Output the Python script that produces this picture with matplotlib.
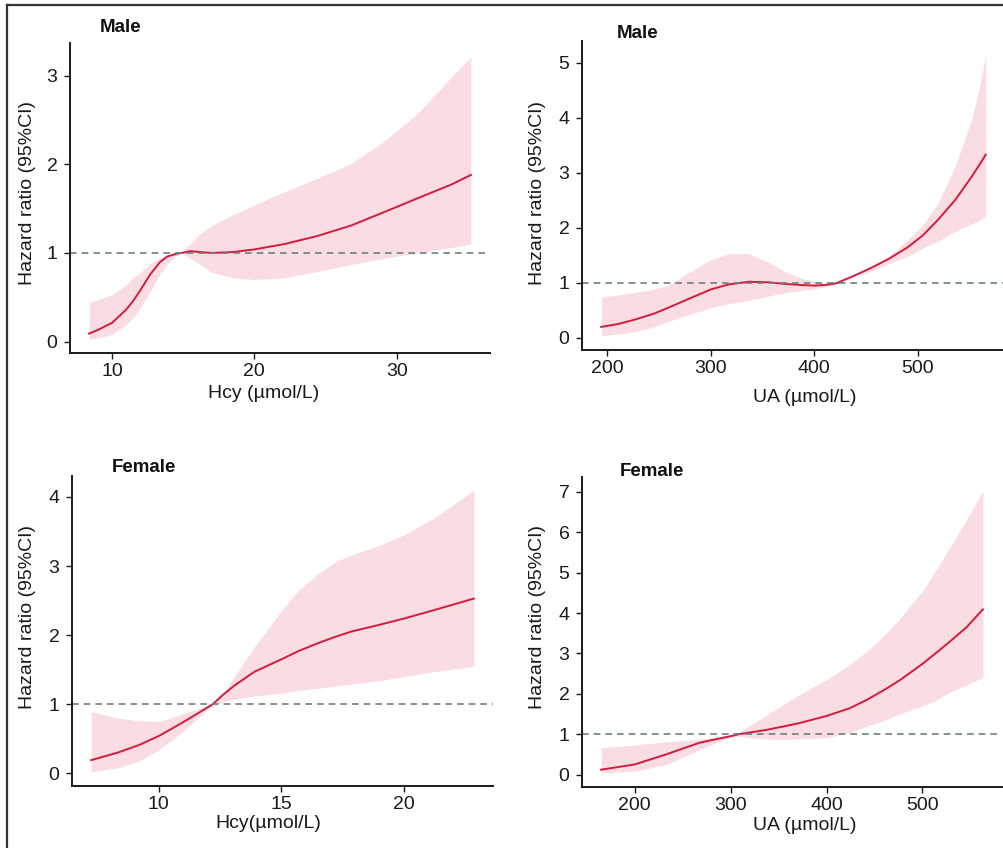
import numpy as np
import matplotlib
matplotlib.use("Agg")
import matplotlib.pyplot as plt
from matplotlib.lines import Line2D

plt.rcParams['font.family'] = ['Liberation Sans', 'DejaVu Sans']

# Hcy, male
hcy_m_x = [8.4, 9, 10, 11, 11.5, 12, 12.7, 13.4, 13.9, 14.5, 14.9, 15.5, 16.2, 17, 18.5,
           20, 22.1, 24.4, 26.8, 29.1, 31.5, 33.8, 35.2]
hcy_m_hr = [0.09, 0.13, 0.21, 0.36, 0.46, 0.58, 0.76, 0.90, 0.96, 0.99, 1.0, 1.02, 1.01, 1.0, 1.01,
            1.04, 1.10, 1.19, 1.31, 1.46, 1.62, 1.77, 1.88]
hcy_m_lo = [0.03, 0.04, 0.08, 0.19, 0.27, 0.38, 0.57, 0.77, 0.88, 0.97, 1.0, 0.94, 0.87, 0.78, 0.72,
            0.70, 0.72, 0.79, 0.87, 0.94, 1.0, 1.06, 1.10]
hcy_m_hi = [0.44, 0.47, 0.53, 0.64, 0.72, 0.78, 0.88, 0.95, 0.98, 1.0, 1.02, 1.10, 1.22, 1.31, 1.43,
            1.54, 1.69, 1.84, 2.01, 2.26, 2.58, 2.98, 3.21]

# UA, male
ua_m_x = [194, 210, 226, 245, 259, 280, 300, 317, 337, 356, 372, 388, 400, 410, 421,
          440, 456, 472.5, 490, 505, 520, 537, 552, 560, 566]
ua_m_hr = [0.20, 0.25, 0.33, 0.44, 0.55, 0.72, 0.88, 0.97, 1.02, 1.01, 0.98, 0.96, 0.95, 0.96, 0.99,
           1.14, 1.28, 1.44, 1.64, 1.86, 2.15, 2.52, 2.92, 3.15, 3.33]
ua_m_lo = [0.035, 0.07, 0.11, 0.20, 0.30, 0.43, 0.55, 0.62, 0.68, 0.76, 0.82, 0.86, 0.89, 0.93, 0.98,
           1.11, 1.22, 1.35, 1.48, 1.63, 1.76, 1.94, 2.07, 2.14, 2.21]
ua_m_hi = [0.74, 0.78, 0.82, 0.88, 0.96, 1.20, 1.42, 1.53, 1.53, 1.37, 1.20, 1.08, 1.03, 0.99, 1.0,
           1.11, 1.28, 1.48, 1.78, 2.05, 2.45, 3.15, 3.95, 4.55, 5.14]

# Hcy, female
hcy_f_x = [7.24, 8.33, 9.2, 10, 10.5, 11.04, 11.6, 12.2, 12.6, 13.08, 13.9, 15, 15.7, 16.47,
           17.15, 17.83, 19, 20, 21.2, 22.85]
hcy_f_hr = [0.19, 0.30, 0.41, 0.54, 0.64, 0.75, 0.87, 1.0, 1.13, 1.27, 1.47, 1.65, 1.77, 1.88,
            1.97, 2.05, 2.15, 2.24, 2.36, 2.53]
hcy_f_lo = [0.02, 0.08, 0.18, 0.34, 0.47, 0.63, 0.80, 0.98, 1.03, 1.07, 1.12, 1.16, 1.20, 1.23,
            1.26, 1.29, 1.34, 1.40, 1.47, 1.55]
hcy_f_hi = [0.89, 0.80, 0.76, 0.75, 0.80, 0.87, 0.93, 1.0, 1.15, 1.40, 1.83, 2.35, 2.65, 2.88,
            3.05, 3.16, 3.30, 3.45, 3.69, 4.10]

# UA, female
ua_f_x = [165, 200, 233, 268, 300, 309, 320, 336, 355, 371, 400, 424, 442, 459, 476, 500,
          511, 528, 546, 563]
ua_f_hr = [0.12, 0.25, 0.50, 0.79, 0.95, 1.0, 1.04, 1.10, 1.19, 1.27, 1.45, 1.64, 1.85, 2.08, 2.33, 2.74,
           2.95, 3.28, 3.65, 4.09]
ua_f_lo = [0.04, 0.08, 0.25, 0.62, 0.93, 0.95, 0.91, 0.88, 0.87, 0.88, 0.91, 1.04, 1.20, 1.33, 1.50, 1.70,
           1.80, 2.03, 2.22, 2.41]
ua_f_hi = [0.66, 0.73, 0.81, 0.87, 0.98, 1.05, 1.22, 1.45, 1.73, 1.97, 2.35, 2.72, 3.05, 3.42, 3.85, 4.55,
           4.95, 5.60, 6.31, 7.02]

W, H = 1004, 848
LINE = '#d41a3f'
FILL = '#f9dde2'
REF = '#6b8080'
FS = 14

fig = plt.figure(figsize=(W / 100, H / 100), dpi=100)


def px_box(l, r, t, b):
    return [l / W, 1 - b / H, (r - l) / W, (b - t) / H]


panels = [
    dict(box=(70, 490, 43, 353), x=hcy_m_x, hr=hcy_m_hr, lo=hcy_m_lo, hi=hcy_m_hi,
         xt=[10, 20, 30], yt=[0, 1, 2, 3], xl='Hcy (µmol/L)', title='Male',
         tpos=(100, 28), xlpos=(264, 393), ylpos=(28, 193)),
    dict(box=(582, 1005, 41, 350), x=ua_m_x, hr=ua_m_hr, lo=ua_m_lo, hi=ua_m_hi,
         xt=[200, 300, 400, 500], yt=[0, 1, 2, 3, 4, 5], xl='UA (µmol/L)', title='Male',
         tpos=(617, 33), xlpos=(805, 397), ylpos=(538, 193)),
    dict(box=(72, 493, 476, 786), x=hcy_f_x, hr=hcy_f_hr, lo=hcy_f_lo, hi=hcy_f_hi,
         xt=[10, 15, 20], yt=[0, 1, 2, 3, 4], xl='Hcy(µmol/L)', title='Female',
         tpos=(112, 467), xlpos=(268, 823), ylpos=(28, 617)),
    dict(box=(582, 1002, 477, 787), x=ua_f_x, hr=ua_f_hr, lo=ua_f_lo, hi=ua_f_hi,
         xt=[200, 300, 400, 500], yt=[0, 1, 2, 3, 4, 5, 6, 7], xl='UA (µmol/L)', title='Female',
         tpos=(620, 472), xlpos=(805, 825), ylpos=(538, 617)),
]

for p in panels:
    ax = fig.add_axes(px_box(*p['box']))
    x = np.array(p['x'])
    ax.fill_between(x, p['lo'], p['hi'], color=FILL, linewidth=0)
    ax.plot(x, p['hr'], color=LINE, lw=1.4, solid_joinstyle='round')
    ax.axhline(1, color=REF, lw=1.2, linestyle=(0, (4, 3)))

    # ggplot-like 5% expansion
    xr = x.max() - x.min()
    ymin, ymax = min(p['lo']), max(p['hi'])
    yr = ymax - ymin
    ax.set_xlim(x.min() - 0.05 * xr, x.max() + 0.05 * xr)
    ax.set_ylim(ymin - 0.05 * yr, ymax + 0.05 * yr)

    ax.set_xticks(p['xt'])
    ax.set_yticks(p['yt'])
    ax.tick_params(labelsize=FS, length=4, width=1, colors='#1a1a1a', pad=3)
    ax.tick_params(axis='y', pad=5)
    for s in ['top', 'right']:
        ax.spines[s].set_visible(False)
    for s in ['left', 'bottom']:
        ax.spines[s].set_linewidth(1.4)
        ax.spines[s].set_color('#1a1a1a')

    ax.set_xlabel(p['xl'], fontsize=FS, color='#1a1a1a')
    ax.set_ylabel('Hazard ratio (95%CI)', fontsize=FS, color='#1a1a1a')
    ax.xaxis.set_label_coords(p['xlpos'][0] / W, 1 - p['xlpos'][1] / H, transform=fig.transFigure)
    ax.yaxis.set_label_coords(p['ylpos'][0] / W, 1 - p['ylpos'][1] / H, transform=fig.transFigure)
    ax.xaxis.label.set_va('center')
    ax.yaxis.label.set_va('center')

    fig.text(p['tpos'][0] / W, 1 - p['tpos'][1] / H, p['title'], fontsize=13.5,
             fontweight='bold', ha='left', va='center', color='#111111')

# outer frame (top and left edges only)
fig.add_artist(Line2D([7 / W, 1], [1 - 5 / H, 1 - 5 / H], transform=fig.transFigure,
                      color='#333333', lw=1.6))
fig.add_artist(Line2D([7 / W, 7 / W], [1 - 5 / H, 0], transform=fig.transFigure,
                      color='#333333', lw=1.6))

fig.savefig('out.png', dpi=100, facecolor='white')
